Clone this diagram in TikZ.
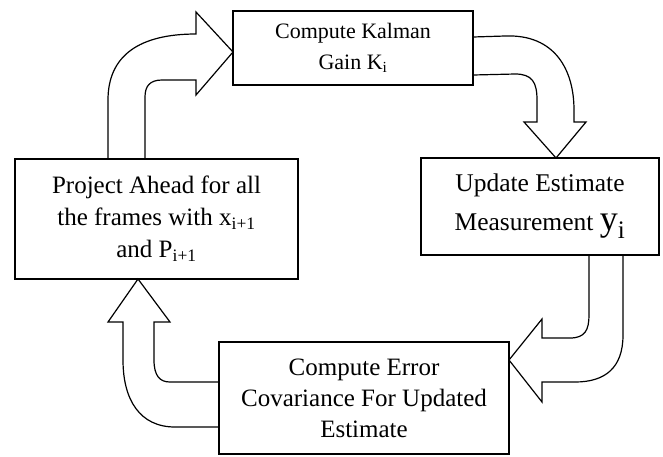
\documentclass[tikz,border=0pt]{standalone}
\usepackage{fontspec}
\setmainfont{Liberation Serif}
\begin{document}
\begin{tikzpicture}[x=1pt,y=-1pt,
  box/.style={draw,line width=1.4pt,inner sep=0pt,align=center},
  blockarrow/.style={draw,line width=1.2pt,line join=miter}]
\useasboundingbox (0,0) rectangle (663,456);
\node[box,minimum width=240pt,minimum height=74pt,font=\fontsize{22}{28}\selectfont] (kalman) at (353,48) {Compute Kalman\\[3pt]Gain K\textsubscript{i}};
\node[box,minimum width=283pt,minimum height=120pt,font=\fontsize{25}{32}\selectfont] (project) at (156.5,219) {Project Ahead for all\\the frames with x\textsubscript{i+1}\\and P\textsubscript{i+1}};
\node[box,minimum width=238pt,minimum height=97pt,font=\fontsize{25.5}{39}\selectfont] (update) at (540,206.5) {Update Estimate\\Measurement {\fontsize{36}{39}\selectfont y\textsubscript{i}}};
\node[box,minimum width=290pt,minimum height=112pt,font=\fontsize{25}{31}\selectfont] (error) at (364,398) {Compute Error\\Covariance For Updated\\Estimate};
\draw[blockarrow] (108,159) -- (108,100) .. controls (108,55) and (140,34) .. (196,34) -- (196,12) -- (233,52) -- (196,95) -- (196,80) -- (162,80) .. controls (150,80) and (145,86) .. (145,97) -- (145,159);
\draw[blockarrow] (473,37) -- (505,36) .. controls (555,34) and (574,70) .. (574,110) -- (574,122) -- (586,122) -- (556,158) -- (524,122) -- (537,122) -- (537,100) .. controls (537,82) and (532,74) .. (515,74) -- (473,75);
\draw[blockarrow] (623,255) -- (623,335) .. controls (623,368) and (605,382) .. (575,382) -- (542,382) -- (542,402) -- (509,360) -- (542,319) -- (542,338) -- (570,338) .. controls (585,338) and (589,330) .. (589,315) -- (589,255);
\draw[blockarrow] (219,427) -- (175,427) .. controls (140,427) and (123,400) .. (123,360) -- (123,322) -- (108,322) -- (138,279) -- (170,322) -- (154,322) -- (154,360) .. controls (154,376) and (160,382) .. (170,382) -- (219,382);
\end{tikzpicture}
\end{document}
